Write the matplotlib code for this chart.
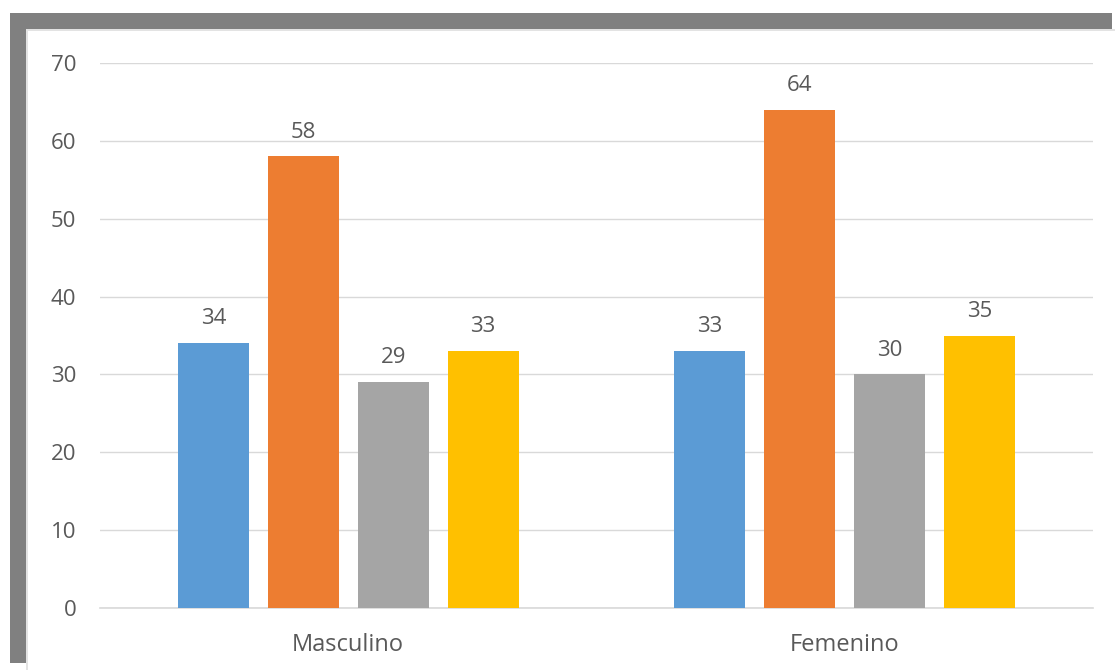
import numpy as np
import matplotlib.pyplot as plt
from matplotlib.patches import Rectangle

categorias = ["Masculino", "Femenino"]
serie_1 = [34, 33]
serie_2 = [58, 64]
serie_3 = [29, 30]
serie_4 = [33, 35]
series = [serie_1, serie_2, serie_3, serie_4]
colores = ["#5B9BD5", "#ED7D31", "#A5A5A5", "#FFC000"]
yticks = [0, 10, 20, 30, 40, 50, 60, 70]

texto = "#595959"
plt.rcParams['font.family'] = ['Open Sans', 'DejaVu Sans']

fig = plt.figure(figsize=(11.15, 6.7), dpi=100)
W, H = 1115, 670

# marco gris arriba e izquierda
def rect_px(x0, y0, x1, y1, color):
    fig.patches.append(Rectangle((x0 / W, 1 - y1 / H), (x1 - x0) / W, (y1 - y0) / H,
                                 transform=fig.transFigure, facecolor=color,
                                 edgecolor="none", zorder=0))

rect_px(10, 13, 1112, 29, "#808080")
rect_px(10, 13, 26, 663, "#808080")
rect_px(26, 29, 1115, 31, "#E3E3E3")
rect_px(26, 29, 28, 670, "#E3E3E3")

ax = fig.add_axes([100 / W, 1 - 608 / H, (1093 - 100) / W, (608 - 63) / H])
ax.set_facecolor("none")

x = np.arange(len(categorias))
ancho = 0.143
paso = 0.181
for i, (vals, c) in enumerate(zip(series, colores)):
    pos = x + (i - 1.5) * paso
    bars = ax.bar(pos, vals, width=ancho, color=c, zorder=3)
    for b, v in zip(bars, vals):
        ax.annotate(str(v), (b.get_x() + b.get_width() / 2, v),
                    xytext=(0, 10), textcoords="offset points",
                    ha="center", va="bottom", fontsize=16, color=texto)

ax.set_xlim(-0.5, 1.5)
ax.set_ylim(0, 70)
ax.set_yticks(yticks)
ax.set_xticks(x)
ax.set_xticklabels(categorias, fontsize=17)
ax.grid(axis="y", color="#D9D9D9", lw=1, zorder=0)
ax.axhline(0, color="#D9D9D9", lw=1.2, zorder=1, clip_on=False)
for s in ax.spines.values():
    s.set_visible(False)
ax.tick_params(axis="both", length=0, colors=texto)
ax.tick_params(axis="y", pad=17, labelsize=16)
ax.tick_params(axis="x", pad=18)

fig.savefig("out.png", dpi=100)
